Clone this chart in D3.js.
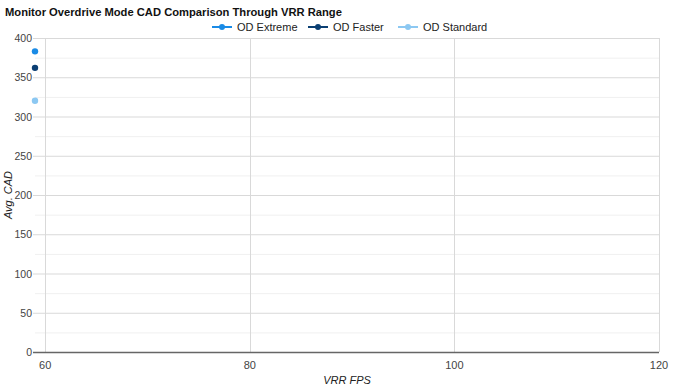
<!DOCTYPE html>
<html lang="en">
  <head>
    <meta charset="utf-8">
    <title>Monitor Overdrive Mode CAD Comparison</title>
    <script src="https://d3js.org/d3.v7.js"></script>
    <style>
      body { margin: 0; background: #fff; }
      text { font-family: Arial, "Liberation Sans", sans-serif; }
    </style>
  </head>
  <body>
    <script>

  // chart data
  var seriesNames = ["OD Extreme", "OD Faster", "OD Standard"];
  var seriesColors = ["#1a8be6", "#0b3f73", "#8cc8f2"];
  var fpsValues = [59];
  var odExtreme = [383];
  var odFaster = [362];
  var odStandard = [320];
  var xTicks = [60, 80, 100, 120];
  var yTicks = [0, 50, 100, 150, 200, 250, 300, 350, 400];
  var yMinorTicks = [25, 75, 125, 175, 225, 275, 325, 375];

  var w = 675;
  var h = 390;
  var margin = {top: 38, right: 16, bottom: 38, left: 35};

  var series = [odExtreme, odFaster, odStandard].map(function(vals, i) {
    return {
      name: seriesNames[i],
      color: seriesColors[i],
      values: vals.map(function(v, j) { return {x: fpsValues[j], y: v}; })
    };
  });

  var xScale = d3.scaleLinear()
    .domain([59, 120])
    .range([margin.left, w - margin.right]);

  var yScale = d3.scaleLinear()
    .domain([0, 400])
    .range([h - margin.bottom, margin.top]);

  var svg = d3.select("body")
    .append("svg")
    .attr("width", w)
    .attr("height", h);

  // minor horizontal grid
  svg.append("g")
    .selectAll("line")
    .data(yMinorTicks)
    .enter()
    .append("line")
    .attr("x1", margin.left)
    .attr("x2", w - margin.right)
    .attr("y1", d => yScale(d) + 0.5)
    .attr("y2", d => yScale(d) + 0.5)
    .attr("stroke", "#f0f0f0");

  // major horizontal grid (with little tick stubs on the left)
  svg.append("g")
    .selectAll("line")
    .data(yTicks.filter(d => d > 0))
    .enter()
    .append("line")
    .attr("x1", margin.left - 2)
    .attr("x2", w - margin.right)
    .attr("y1", d => yScale(d) + 0.5)
    .attr("y2", d => yScale(d) + 0.5)
    .attr("stroke", "#d9d9d9");

  // vertical grid
  svg.append("g")
    .selectAll("line")
    .data(xTicks)
    .enter()
    .append("line")
    .attr("x1", d => Math.round(xScale(d)) + 0.5)
    .attr("x2", d => Math.round(xScale(d)) + 0.5)
    .attr("y1", margin.top)
    .attr("y2", h - margin.bottom)
    .attr("stroke", "#d9d9d9");

  // baseline
  svg.append("line")
    .attr("x1", margin.left - 2)
    .attr("x2", w - margin.right)
    .attr("y1", yScale(0) + 0.5)
    .attr("y2", yScale(0) + 0.5)
    .attr("stroke", "#666")
    .attr("stroke-width", 1.5);

  // y tick labels
  svg.append("g")
    .selectAll("text")
    .data(yTicks)
    .enter()
    .append("text")
    .attr("x", margin.left - 3)
    .attr("y", d => yScale(d) + 4)
    .attr("text-anchor", "end")
    .attr("font-size", 10.5)
    .attr("fill", "#444")
    .text(d => d);

  // x tick labels
  svg.append("g")
    .selectAll("text")
    .data(xTicks)
    .enter()
    .append("text")
    .attr("x", d => xScale(d))
    .attr("y", h - margin.bottom + 17)
    .attr("text-anchor", "middle")
    .attr("font-size", 11)
    .attr("fill", "#444")
    .text(d => d);

  // points
  series.forEach(function(s) {
    svg.append("g")
      .selectAll("circle")
      .data(s.values)
      .enter()
      .append("circle")
      .attr("cx", d => xScale(d.x))
      .attr("cy", d => yScale(d.y))
      .attr("r", 3.2)
      .attr("fill", s.color);
  });

  // title
  svg.append("text")
    .attr("x", 5)
    .attr("y", 16)
    .attr("font-size", 11.2)
    .attr("font-weight", "bold")
    .attr("fill", "#111")
    .text("Monitor Overdrive Mode CAD Comparison Through VRR Range");

  // legend
  var legendX = [212, 308, 398];
  var legend = svg.append("g")
    .selectAll("g")
    .data(series)
    .enter()
    .append("g")
    .attr("transform", (d, i) => `translate(${legendX[i]}, 27)`);

  legend.append("line")
    .attr("x1", 0)
    .attr("x2", 20)
    .attr("stroke", d => d.color)
    .attr("stroke-width", 2);

  legend.append("circle")
    .attr("cx", 10)
    .attr("r", 3)
    .attr("fill", d => d.color);

  legend.append("text")
    .attr("x", 25)
    .attr("y", 4)
    .attr("font-size", 11)
    .attr("fill", "#222")
    .text(d => d.name);

  // axis titles
  svg.append("text")
    .attr("x", (margin.left + w - margin.right) / 2)
    .attr("y", h - 6)
    .attr("text-anchor", "middle")
    .attr("font-size", 11)
    .attr("font-style", "italic")
    .attr("fill", "#222")
    .text("VRR FPS");

  svg.append("text")
    .attr("transform", `translate(12, ${(margin.top + h - margin.bottom) / 2}) rotate(-90)`)
    .attr("text-anchor", "middle")
    .attr("font-size", 11)
    .attr("font-style", "italic")
    .attr("fill", "#222")
    .text("Avg. CAD");

    </script>
  </body>
</html>
